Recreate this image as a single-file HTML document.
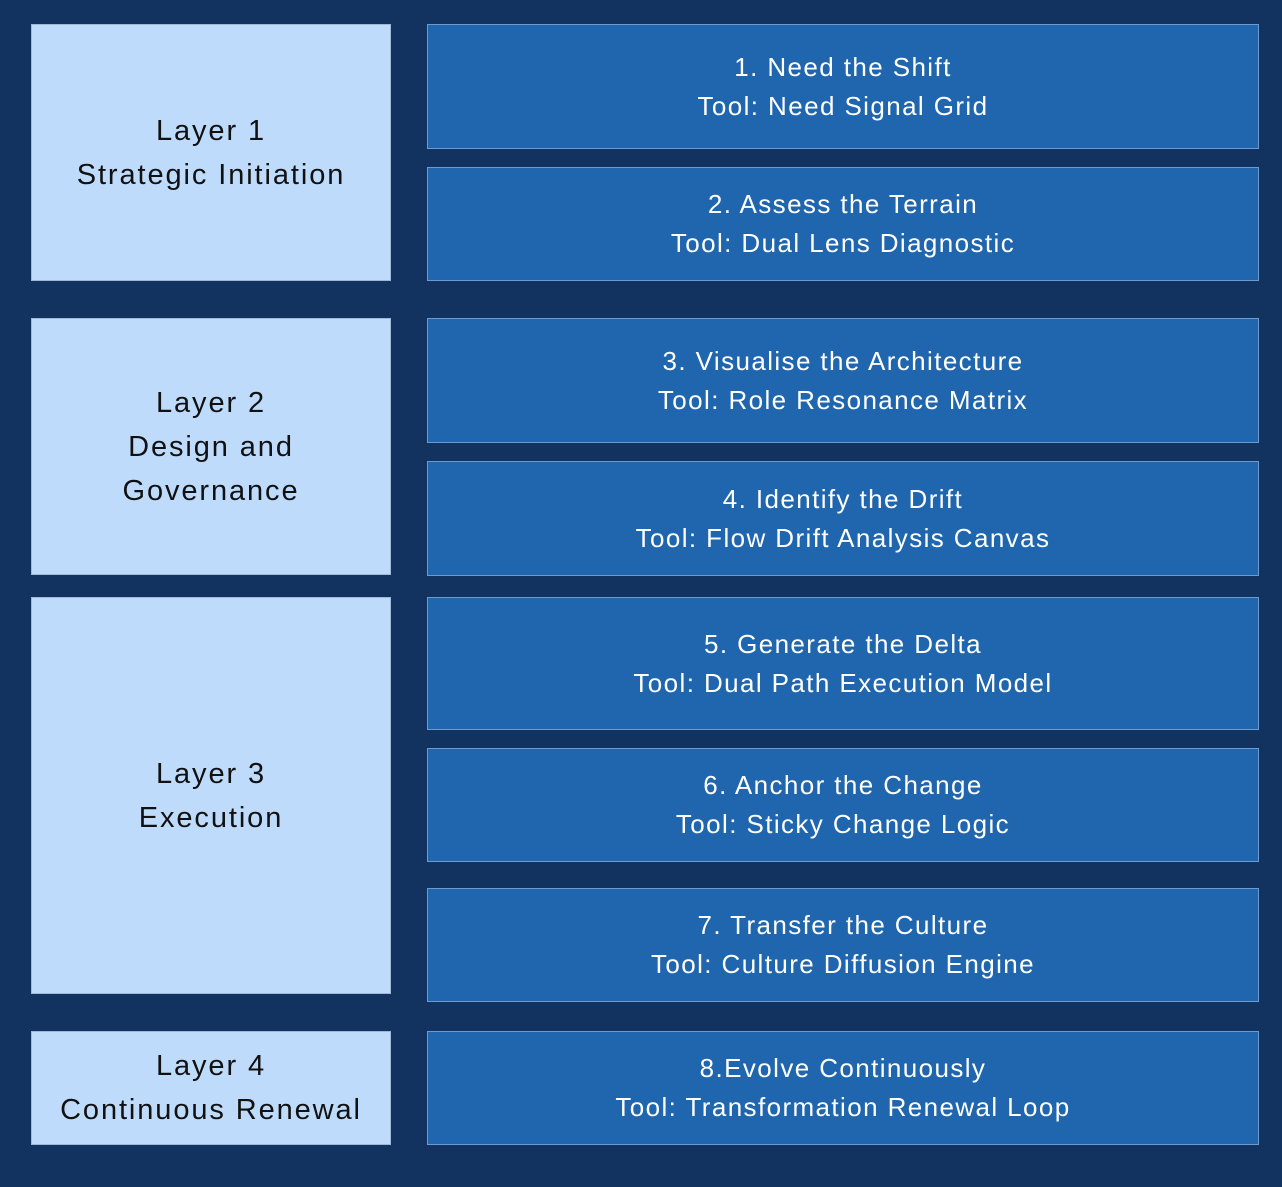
<!DOCTYPE html>
<html><head><style>
body{margin:0;width:1282px;height:1187px;background:#12325f;position:relative;overflow:hidden;font-family:"Liberation Sans",sans-serif}
.b{position:absolute;box-sizing:border-box;display:flex;flex-direction:column;justify-content:center;align-items:center;text-align:center}
.l{background:#bfdbfb;border:1px solid #9fb8d8;color:#111;font-size:29px;line-height:44px;letter-spacing:1.9px}
.r{background:#1f66ae;border:1px solid #6d9bd0;color:#fff;font-size:26px;line-height:39px;letter-spacing:1.4px}
</style></head><body>
<div class="b l" style="left:31px;top:24px;width:360px;height:257px">Layer 1<br>Strategic Initiation</div>
<div class="b l" style="left:31px;top:318px;width:360px;height:257px">Layer 2<br>Design and<br>Governance</div>
<div class="b l" style="left:31px;top:597px;width:360px;height:397px">Layer 3<br>Execution</div>
<div class="b l" style="left:31px;top:1031px;width:360px;height:114px">Layer 4<br>Continuous Renewal</div>
<div class="b r" style="left:427px;top:24px;width:832px;height:125px">1. Need the Shift<br>Tool: Need Signal Grid</div>
<div class="b r" style="left:427px;top:167px;width:832px;height:114px">2. Assess the Terrain<br>Tool: Dual Lens Diagnostic</div>
<div class="b r" style="left:427px;top:318px;width:832px;height:125px">3. Visualise the Architecture<br>Tool: Role Resonance Matrix</div>
<div class="b r" style="left:427px;top:461px;width:832px;height:115px">4. Identify the Drift<br>Tool: Flow Drift Analysis Canvas</div>
<div class="b r" style="left:427px;top:597px;width:832px;height:133px">5. Generate the Delta<br>Tool: Dual Path Execution Model</div>
<div class="b r" style="left:427px;top:748px;width:832px;height:114px">6. Anchor the Change<br>Tool: Sticky Change Logic</div>
<div class="b r" style="left:427px;top:888px;width:832px;height:114px">7. Transfer the Culture<br>Tool: Culture Diffusion Engine</div>
<div class="b r" style="left:427px;top:1031px;width:832px;height:114px">8.Evolve Continuously<br>Tool: Transformation Renewal Loop</div>
</body></html>
